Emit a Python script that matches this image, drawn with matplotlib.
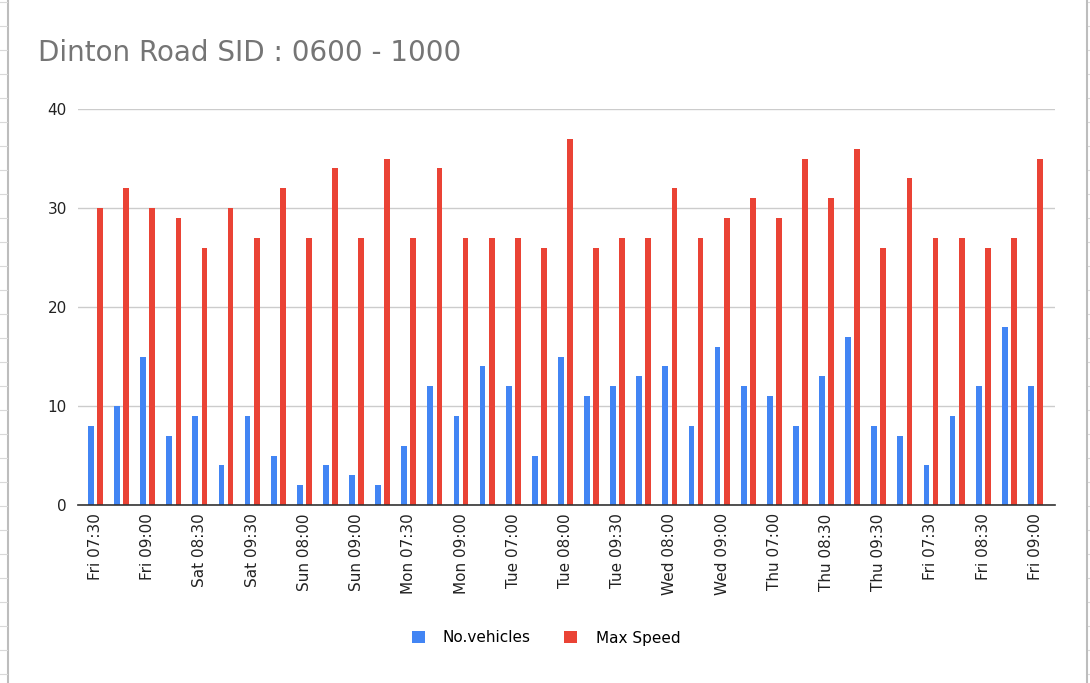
import matplotlib
matplotlib.use("Agg")
import matplotlib.pyplot as plt
from matplotlib.lines import Line2D
from matplotlib.patches import Patch
import numpy as np

categories = ["Fri 07:30", "", "Fri 09:00", "", "Sat 08:30", "", "Sat 09:30", "",
              "Sun 08:00", "", "Sun 09:00", "", "Mon 07:30", "", "Mon 09:00", "",
              "Tue 07:00", "", "Tue 08:00", "", "Tue 09:30", "", "Wed 08:00", "",
              "Wed 09:00", "", "Thu 07:00", "", "Thu 08:30", "", "Thu 09:30", "",
              "Fri 07:30", "", "Fri 08:30", "", "Fri 09:00"]
vehicles = [8, 10, 15, 7, 9, 4, 9, 5, 2, 4, 3, 2, 6, 12, 9, 14, 12, 5, 15, 11,
            12, 13, 14, 8, 16, 12, 11, 8, 13, 17, 8, 7, 4, 9, 12, 18, 12]
max_speed = [30, 32, 30, 29, 26, 30, 27, 32, 27, 34, 27, 35, 27, 34, 27, 27, 27, 26, 37, 26,
             27, 27, 32, 27, 29, 31, 29, 35, 31, 36, 26, 33, 27, 27, 26, 27, 35]
yticks = [0, 10, 20, 30, 40]

blue = "#4285F4"
red = "#EA4335"

W, H = 1090, 683
fig = plt.figure(figsize=(W / 100, H / 100), dpi=100)
fig.patch.set_facecolor("white")

ax = fig.add_axes([78 / W, 1 - 505 / H, (1055 - 78) / W, (505 - 109) / H])
x = np.arange(len(categories))
bw = 0.22
off = 0.175
ax.bar(x - off, vehicles, width=bw, color=blue, zorder=3)
ax.bar(x + off, max_speed, width=bw, color=red, zorder=3)

ax.set_ylim(0, 40)
ax.set_xlim(-0.67, len(categories) - 1 + 0.75)
ax.set_yticks(yticks)
ax.set_yticklabels([str(v) for v in yticks], fontsize=11, color="#222222")
ax.set_xticks(x[::2])
ax.set_xticklabels([categories[i] for i in x[::2]], rotation=90, fontsize=11, color="#222222")
ax.tick_params(axis="both", length=0, pad=8)
ax.tick_params(axis="x", pad=6)
ax.grid(axis="y", color="#cccccc", linewidth=1, zorder=0)
for s in ["top", "right", "left"]:
    ax.spines[s].set_visible(False)
ax.spines["bottom"].set_color("#333333")
ax.spines["bottom"].set_linewidth(1.2)
ax.spines["bottom"].set_zorder(4)

fig.text(38 / W, 1 - 53 / H, "Dinton Road SID : 0600 - 1000", fontsize=20,
         color="#757575", va="center", ha="left")

handles = [Patch(facecolor=blue, edgecolor="none"), Patch(facecolor=red, edgecolor="none")]
fig.legend(handles, ["No.vehicles", "Max Speed"], loc="center",
           bbox_to_anchor=(546 / W, 1 - 638 / H), ncol=2, frameon=False,
           fontsize=11, handlelength=0.85, handleheight=0.85, columnspacing=2.2,
           handletextpad=1.2)

# spreadsheet frame lines
fig.add_artist(Line2D([8 / W, 8 / W], [0, 1], color="#bdbdbd", linewidth=1.5))
fig.add_artist(Line2D([1087 / W, 1087 / W], [0, 1], color="#bdbdbd", linewidth=1.5))
for yy in range(2, H, 24):
    fig.add_artist(Line2D([0, 7 / W], [1 - yy / H, 1 - yy / H], color="#d9d9d9", linewidth=0.8))
    fig.add_artist(Line2D([1088 / W, 1], [1 - yy / H, 1 - yy / H], color="#d9d9d9", linewidth=0.8))

fig.savefig("out.png", dpi=100, facecolor="white")
